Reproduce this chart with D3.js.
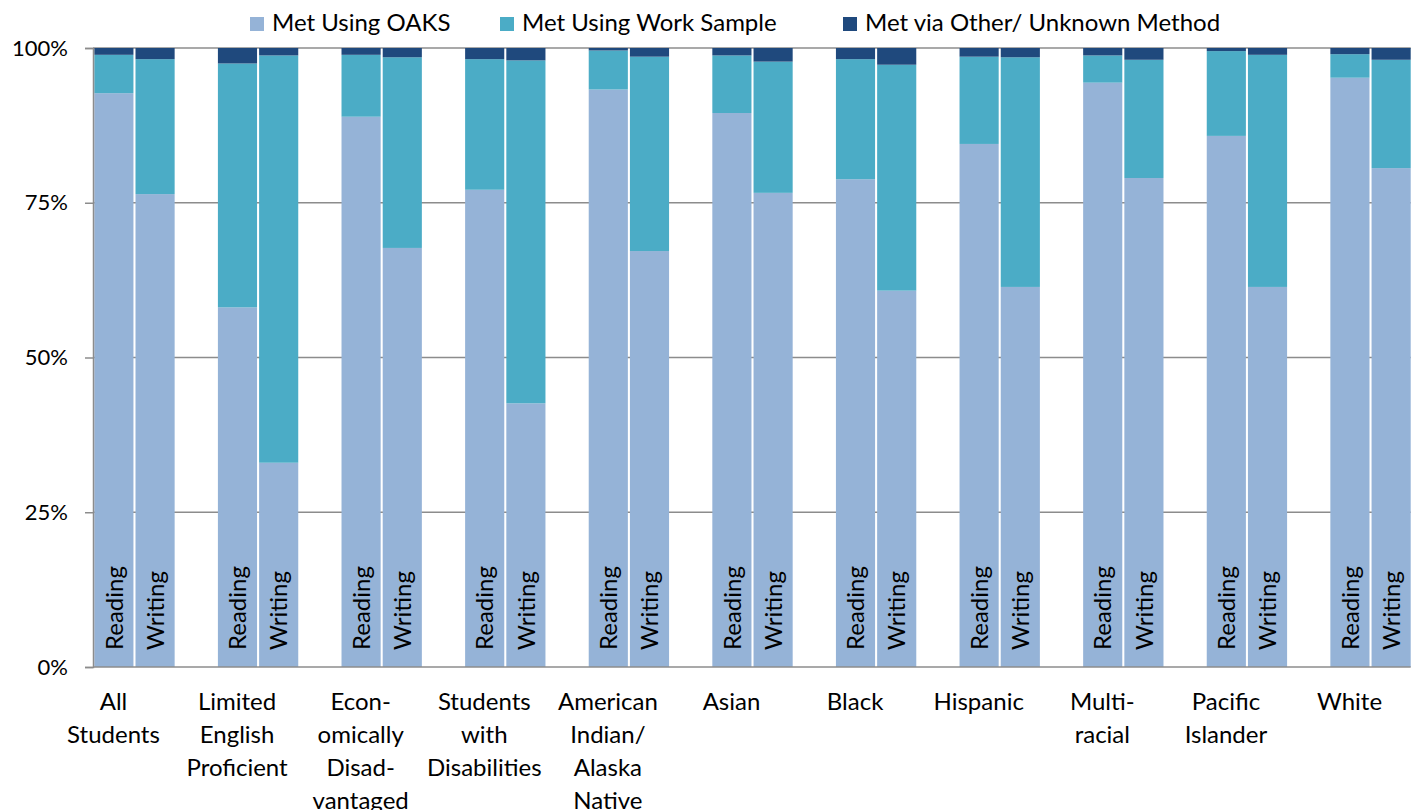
<!DOCTYPE html>
<html>
<head>
<meta charset="utf-8">
<script src="https://cdn.jsdelivr.net/npm/d3@7"></script>
<style>
  html, body { margin: 0; padding: 0; background: #fff; }
  svg { display: block; font-family: Lato, "Open Sans", sans-serif; }
</style>
</head>
<body>
<svg id="chart" width="1418" height="810"></svg>
<script>
// Student groups along the category axis
const categories = [
  "All Students", "Limited English Proficient", "Economically Disadvantaged",
  "Students with Disabilities", "American Indian/ Alaska Native", "Asian",
  "Black", "Hispanic", "Multi-racial", "Pacific Islander", "White"
];
// Wrapped label lines for each group
const categoryLines = [
  ["All", "Students"], ["Limited", "English", "Proficient"],
  ["Econ-", "omically", "Disad-", "vantaged"], ["Students", "with", "Disabilities"],
  ["American", "Indian/", "Alaska", "Native"], ["Asian"], ["Black"], ["Hispanic"],
  ["Multi-", "racial"], ["Pacific", "Islander"], ["White"]
];
const subjects = ["Reading", "Writing"];
const seriesNames = ["Met Using OAKS", "Met Using Work Sample", "Met via Other/ Unknown Method"];

// Percent of students meeting the requirement, by method
const readingOaks  = [92.7, 58.1, 88.9, 77.1, 93.3, 89.5, 78.8, 84.5, 94.4, 85.8, 95.2];
const readingWork  = [6.2, 39.4, 10.0, 21.1, 6.3, 9.3, 19.4, 14.1, 4.4, 13.7, 3.8];
const readingOther = [1.1, 2.5, 1.1, 1.8, 0.4, 1.2, 1.8, 1.4, 1.2, 0.5, 1.0];
const writingOaks  = [76.4, 33.0, 67.7, 42.6, 67.2, 76.6, 60.8, 61.4, 79.0, 61.4, 80.6];
const writingWork  = [21.8, 65.8, 30.8, 55.4, 31.4, 21.2, 36.5, 37.1, 19.1, 37.5, 17.5];
const writingOther = [1.8, 1.2, 1.5, 2.0, 1.4, 2.2, 2.7, 1.5, 1.9, 1.1, 1.9];

const tickValues = [0, 25, 50, 75, 100];
const tickLabels = ["0%", "25%", "50%", "75%", "100%"];

const colors = ["#95B3D7", "#4BACC6", "#1F497D"];
const keys = ["oaks", "work", "other"];

// Flat table: one row per group and subject
const rows = [];
categories.forEach((c, i) => {
  rows.push({ cat: c, subject: "Reading", oaks: readingOaks[i], work: readingWork[i], other: readingOther[i] });
  rows.push({ cat: c, subject: "Writing", oaks: writingOaks[i], work: writingWork[i], other: writingOther[i] });
});

const svg = d3.select("#chart");
const axisX = 93, plotRight = 1410.7;
const fontSize = 24;
const tickFontSize = 22;

const x = d3.scaleBand().domain(categories).range([94.3, plotRight]).paddingInner(0.35).paddingOuter(0);
const xSub = d3.scaleBand().domain(subjects).range([0, x.bandwidth()]).paddingInner(0.05);
const y = d3.scaleLinear().domain([0, 100]).range([667, 48]);
// Group labels sit slightly left of the bar pair
const xLabel = d3.scalePoint().domain(categories)
  .range([x(categories[0]) + x.bandwidth() / 2 - 21, x(categories[categories.length - 1]) + x.bandwidth() / 2 - 21]);

// Gridlines
svg.append("g")
  .selectAll("line")
  .data(tickValues.filter(v => v > 0))
  .join("line")
  .attr("x1", axisX).attr("x2", plotRight)
  .attr("y1", d => y(d)).attr("y2", d => y(d))
  .attr("stroke", "#8c8c8c").attr("stroke-width", 1.5);

// Stacked bars
const stack = d3.stack().keys(keys);
const stacked = stack(rows);

const barG = svg.append("g");
stacked.forEach((layer, li) => {
  barG.append("g")
    .attr("fill", colors[li])
    .selectAll("rect")
    .data(layer)
    .join("rect")
    .attr("x", d => x(d.data.cat) + xSub(d.data.subject))
    .attr("width", xSub.bandwidth())
    .attr("y", d => y(d[1]))
    .attr("height", d => y(d[0]) - y(d[1]));
});

// Subject labels inside the bars
svg.append("g")
  .selectAll("text")
  .data(rows)
  .join("text")
  .attr("transform", d => `translate(${x(d.cat) + xSub(d.subject) + xSub.bandwidth() / 2},${y(0) - 17}) rotate(-90)`)
  .attr("dy", "0.36em")
  .attr("font-size", fontSize)
  .attr("fill", "#000")
  .text(d => d.subject);

// Y axis
const yAxis = d3.axisLeft(y).tickValues(tickValues).tickFormat((d, i) => tickLabels[i])
  .tickSize(8).tickPadding(17);
const yG = svg.append("g").attr("transform", `translate(${axisX},0)`).call(yAxis);
yG.select(".domain").attr("stroke", "#8c8c8c").attr("stroke-width", 1.5);
yG.selectAll(".tick line").attr("stroke", "#8c8c8c").attr("stroke-width", 1.5);
yG.selectAll(".tick text").attr("font-size", tickFontSize).attr("font-family", "Lato, sans-serif").attr("fill", "#000");

// Category axis line
svg.append("line")
  .attr("x1", axisX).attr("x2", plotRight)
  .attr("y1", y(0)).attr("y2", y(0))
  .attr("stroke", "#8c8c8c").attr("stroke-width", 1.5);

// Category labels
const catG = svg.append("g")
  .selectAll("text")
  .data(categories)
  .join("text")
  .attr("x", d => xLabel(d))
  .attr("y", 710)
  .attr("text-anchor", "middle")
  .attr("font-size", fontSize)
  .attr("fill", "#000");
catG.selectAll("tspan")
  .data((d, i) => categoryLines[i])
  .join("tspan")
  .attr("x", function () { return d3.select(this.parentNode).attr("x"); })
  .attr("dy", (d, i) => i === 0 ? 0 : 33)
  .text(d => d);

// Legend
const legendX = [250, 500, 843];
const legend = svg.append("g")
  .selectAll("g")
  .data(seriesNames)
  .join("g")
  .attr("transform", (d, i) => `translate(${legendX[i]},17)`);
legend.append("rect").attr("width", 14).attr("height", 14).attr("fill", (d, i) => colors[i]);
legend.append("text").attr("x", 22).attr("y", 14).attr("font-size", fontSize).attr("fill", "#000").text(d => d);
</script>
</body>
</html>
